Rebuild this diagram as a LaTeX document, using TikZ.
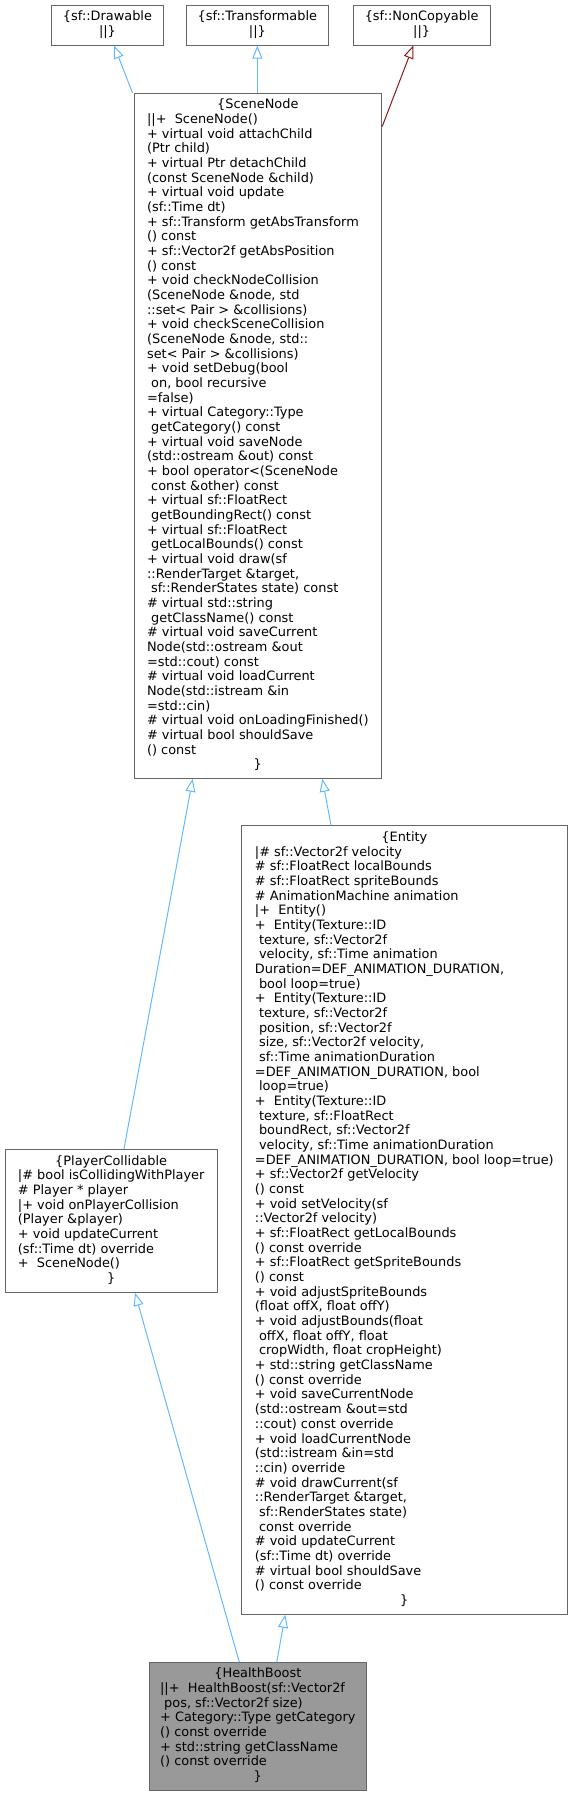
\documentclass[tikz,border=0pt]{standalone}
\usepackage{fontspec}
\setmainfont{DejaVu Sans}
\usepackage{xcolor}
\usepackage{tikz}
\usetikzlibrary{arrows.meta}
\definecolor{edgeblue}{HTML}{63B8FF}
\definecolor{edgered}{HTML}{8B1A1A}
\definecolor{boxgray}{HTML}{666666}
\definecolor{leafgray}{HTML}{999999}

\begin{document}
\begin{tikzpicture}[x=1pt, y=-1pt,
		classbox/.style={draw=boxgray, fill=white, line width=1pt, inner sep=0pt, font=\fontsize{12.9}{14.67}\selectfont},
		inherit/.style={edgeblue, line width=1pt, -{Triangle[open, length=13pt, width=10pt]}},
		inheritred/.style={inherit, edgered}]
				\useasboundingbox (0,0) rectangle (573,1796);
				\node[classbox, minimum width=111.6pt, minimum height=40pt] (drawable) at (107.5,25) {\begin{tabular}{@{}c@{}}\{sf::Drawable\\||\}\end{tabular}};
				\node[classbox, minimum width=142.7pt, minimum height=40pt] (transformable) at (257.35,25) {\begin{tabular}{@{}c@{}}\{sf::Transformable\\||\}\end{tabular}};
				\node[classbox, minimum width=136.7pt, minimum height=40pt] (noncopyable) at (421.65,25) {\begin{tabular}{@{}c@{}}\{sf::NonCopyable\\||\}\end{tabular}};
				\node[classbox, minimum width=247.7pt, minimum height=685pt] (scenenode) at (257.85,435.8) {\begin{tabular}{@{}l@{}}
					\multicolumn{1}{@{}c@{}}{\{SceneNode}\\
					||+\ \ SceneNode()\\
					+ virtual void attachChild\\
					(Ptr child)\\
					+ virtual Ptr detachChild\\
					(const SceneNode \&child)\\
					+ virtual void update\\
					(sf::Time dt)\\
					+ sf::Transform getAbsTransform\\
					() const\\
					+ sf::Vector2f getAbsPosition\\
					() const\\
					+ void checkNodeCollision\\
					(SceneNode \&node, std\\
					::set< Pair > \&collisions)\\
					+ void checkSceneCollision\\
					(SceneNode \&node, std::\\
					set< Pair > \&collisions)\\
					+ void setDebug(bool\\
					\ on, bool recursive\\
					=false)\\
					+ virtual Category::Type\\
					\ getCategory() const\\
					+ virtual void saveNode\\
					(std::ostream \&out) const\\
					+ bool operator<(SceneNode\\
					\ const \&other) const\\
					+ virtual sf::FloatRect\\
					\ getBoundingRect() const\\
					+ virtual sf::FloatRect\\
					\ getLocalBounds() const\\
					+ virtual void draw(sf\\
					::RenderTarget \&target,\\
					\ sf::RenderStates state) const\\
					\# virtual std::string\\
					\ getClassName() const\\
					\# virtual void saveCurrent\\
					Node(std::ostream \&out\\
					=std::cout) const\\
					\# virtual void loadCurrent\\
					Node(std::istream \&in\\
					=std::cin)\\
					\# virtual void onLoadingFinished()\\
					\# virtual bool shouldSave\\
					() const\\
					\multicolumn{1}{@{}c@{}}{\}}
				\end{tabular}};
				\node[classbox, minimum width=326.7pt, minimum height=788.6pt] (entity) at (404.35,1220) {\begin{tabular}{@{}l@{}}
					\multicolumn{1}{@{}c@{}}{\{Entity}\\
					|\# sf::Vector2f velocity\\
					\# sf::FloatRect localBounds\\
					\# sf::FloatRect spriteBounds\\
					\# AnimationMachine animation\\
					|+\ \ Entity()\\
					+\ \ Entity(Texture::ID\\
					\ texture, sf::Vector2f\\
					\ velocity, sf::Time animation\\
					Duration=DEF\_ANIMATION\_DURATION,\\
					\ bool loop=true)\\
					+\ \ Entity(Texture::ID\\
					\ texture, sf::Vector2f\\
					\ position, sf::Vector2f\\
					\ size, sf::Vector2f velocity,\\
					\ sf::Time animationDuration\\
					=DEF\_ANIMATION\_DURATION, bool\\
					\ loop=true)\\
					+\ \ Entity(Texture::ID\\
					\ texture, sf::FloatRect\\
					\ boundRect, sf::Vector2f\\
					\ velocity, sf::Time animationDuration\\
					=DEF\_ANIMATION\_DURATION, bool loop=true)\\
					+ sf::Vector2f getVelocity\\
					() const\\
					+ void setVelocity(sf\\
					::Vector2f velocity)\\
					+ sf::FloatRect getLocalBounds\\
					() const override\\
					+ sf::FloatRect getSpriteBounds\\
					() const\\
					+ void adjustSpriteBounds\\
					(float offX, float offY)\\
					+ void adjustBounds(float\\
					\ offX, float offY, float\\
					\ cropWidth, float cropHeight)\\
					+ std::string getClassName\\
					() const override\\
					+ void saveCurrentNode\\
					(std::ostream \&out=std\\
					::cout) const override\\
					+ void loadCurrentNode\\
					(std::istream \&in=std\\
					::cin) override\\
					\# void drawCurrent(sf\\
					::RenderTarget \&target,\\
					\ sf::RenderStates state)\\
					\ const override\\
					\# void updateCurrent\\
					(sf::Time dt) override\\
					\# virtual bool shouldSave\\
					() const override\\
					\multicolumn{1}{@{}c@{}}{\}}
				\end{tabular}};
				\node[classbox, minimum width=212.3pt, minimum height=143pt] (playercollidable) at (111.15,1220.8) {\begin{tabular}{@{}l@{}}
					\multicolumn{1}{@{}c@{}}{\{PlayerCollidable}\\
					|\# bool isCollidingWithPlayer\\
					\# Player * player\\
					|+ void onPlayerCollision\\
					(Player \&player)\\
					+ void updateCurrent\\
					(sf::Time dt) override\\
					+\ \ SceneNode()\\
					\multicolumn{1}{@{}c@{}}{\}}
				\end{tabular}};
				\node[classbox, fill=leafgray, minimum width=217.7pt, minimum height=127.3pt] (healthboost) at (257.85,1726.35) {\begin{tabular}{@{}l@{}}
					\multicolumn{1}{@{}c@{}}{\{HealthBoost}\\
					||+\ \ HealthBoost(sf::Vector2f\\
					\ pos, sf::Vector2f size)\\
					+ Category::Type getCategory\\
					() const override\\
					+ std::string getClassName\\
					() const override\\
					\multicolumn{1}{@{}c@{}}{\}}
				\end{tabular}};
				\draw[inherit] ([xshift=-1pt]scenenode.north west) -- ([xshift=6.5pt]drawable.south);
				\draw[inherit] (transformable.south |- scenenode.north) -- (transformable.south);
				\draw[inheritred] ([yshift=-33.7pt]scenenode.north east) -- ([xshift=-8.35pt]noncopyable.south);
				\draw[inherit] ([xshift=12.85pt]playercollidable.north) -- ([xshift=-65.15pt]scenenode.south);
				\draw[inherit] ([xshift=-73.35pt]entity.north) -- ([xshift=64.45pt]scenenode.south);
				\draw[inherit] ([xshift=-18.55pt]healthboost.north) -- ([xshift=23.85pt]playercollidable.south);
				\draw[inherit] ([xshift=18.85pt]healthboost.north) -- ([xshift=-119.05pt]entity.south);
			\end{tikzpicture}
\end{document}
